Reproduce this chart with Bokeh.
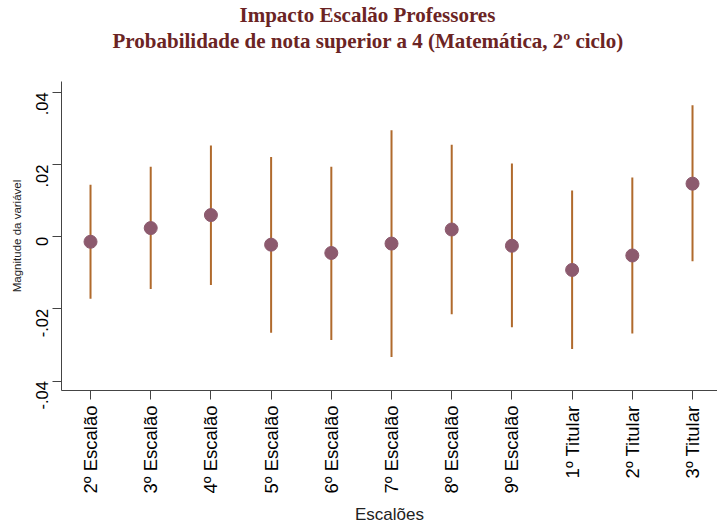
import math
from bokeh.plotting import figure
from bokeh.models import FixedTicker, Range1d, Title, ColumnDataSource
from bokeh.embed import file_html
from bokeh.resources import INLINE

categories = ["2º Escalão", "3º Escalão", "4º Escalão", "5º Escalão", "6º Escalão",
              "7º Escalão", "8º Escalão", "9º Escalão", "1º Titular", "2º Titular", "3º Titular"]
estimate = [-0.0014, 0.0024, 0.0060, -0.0022, -0.0045, -0.0019, 0.0020, -0.0025, -0.0092, -0.0052, 0.0147]
upper = [0.0144, 0.0194, 0.0253, 0.0221, 0.0194, 0.0295, 0.0255, 0.0203, 0.0128, 0.0164, 0.0364]
lower = [-0.0172, -0.0145, -0.0134, -0.0266, -0.0286, -0.0333, -0.0215, -0.0251, -0.0311, -0.0268, -0.0068]
y_ticks = [-0.04, -0.02, 0.0, 0.02, 0.04]
y_tick_labels = ["-.04", "-.02", "0", ".02", ".04"]
title_line1 = "Impacto Escalão Professores"
title_line2 = "Probabilidade de nota superior a 4 (Matemática, 2º ciclo)"

xs = list(range(len(categories)))
src = ColumnDataSource(dict(x=xs, est=estimate, up=upper, lo=lower))

p = figure(width=717, height=526, output_backend="svg", toolbar_location=None,
           x_range=Range1d(-0.482, 10.415), y_range=Range1d(-0.0426, 0.043),
           min_border_left=61, min_border_right=0, min_border_top=80, min_border_bottom=132)
p.outline_line_color = None
p.grid.grid_line_color = None
p.background_fill_color = "white"

p.segment(x0="x", y0="lo", x1="x", y1="up", source=src, line_color="#B06A2C", line_width=2)
p.scatter(x="x", y="est", source=src, size=13, fill_color="#8C5A6E", line_color="#8C5A6E")

# axes
p.xaxis.ticker = FixedTicker(ticks=xs)
p.xaxis.major_label_overrides = {i: c for i, c in enumerate(categories)}
p.xaxis.major_label_orientation = math.pi / 2
p.xaxis.major_label_text_font = "Liberation Sans"
p.xaxis.major_label_text_font_size = "18.5px"
p.xaxis.major_label_text_color = "black"
p.xaxis.major_label_standoff = 6
p.xaxis.axis_label = "Escalões"
p.xaxis.axis_label_text_font = "Liberation Sans"
p.xaxis.axis_label_text_font_style = "normal"
p.xaxis.axis_label_text_font_size = "17px"
p.xaxis.axis_label_text_color = "#222222"
p.xaxis.axis_label_standoff = 8
p.xaxis.minor_tick_line_color = None
p.xaxis.major_tick_out = 9
p.xaxis.major_tick_in = 0
p.xaxis.axis_line_color = "#444444"
p.xaxis.major_tick_line_color = "#444444"

p.yaxis.ticker = FixedTicker(ticks=y_ticks)
p.yaxis.major_label_overrides = {t: l for t, l in zip(y_ticks, y_tick_labels)}
p.yaxis.major_label_orientation = math.pi / 2
p.yaxis.major_label_text_font = "Liberation Sans"
p.yaxis.major_label_text_font_size = "16.5px"
p.yaxis.major_label_text_color = "black"
p.yaxis.major_label_standoff = 10
p.yaxis.axis_label = "Magnitude da variável"
p.yaxis.axis_label_text_font = "Liberation Sans"
p.yaxis.axis_label_text_font_style = "normal"
p.yaxis.axis_label_text_font_size = "11.5px"
p.yaxis.axis_label_text_color = "#222222"
p.yaxis.axis_label_standoff = 5
p.yaxis.minor_tick_line_color = None
p.yaxis.major_tick_out = 9
p.yaxis.major_tick_in = 0
p.yaxis.axis_line_color = "#444444"
p.yaxis.major_tick_line_color = "#444444"

# two-line title: an empty spacer nearest the plot, then line 2, then line 1
common = dict(align="left", text_font="Liberation Serif", text_font_style="bold",
              text_font_size="21px", text_color="#6B2424", standoff=0)
p.add_layout(Title(text=" ", align="left", text_font_size="24px", standoff=0), "above")
p.add_layout(Title(text=title_line2, offset=51, text_line_height=0.7, **common), "above")
p.add_layout(Title(text=title_line1, offset=178, **common), "above")

open("out.html", "w").write(file_html(p, INLINE))
